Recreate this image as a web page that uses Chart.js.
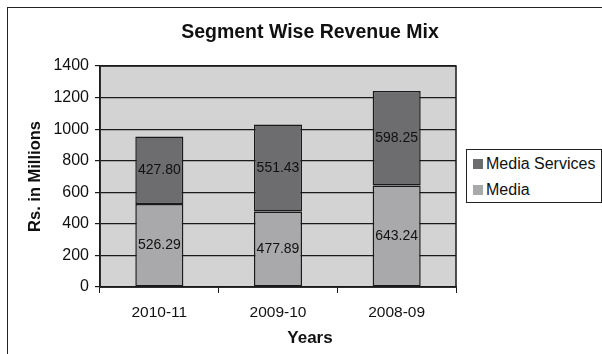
<!DOCTYPE html>
<html>
<head>
<meta charset="utf-8">
<script src="https://cdn.jsdelivr.net/npm/chart.js@4"></script>
<style>
  body { margin: 0; background: #fff; }
  #wrap { position: relative; width: 602px; height: 354px; overflow: hidden; }
  #frame { position: absolute; left: 7px; top: 7px; width: 620px; height: 360px;
           border-top: 1.5px solid #222; border-left: 1.5px solid #222; }
  #myChart { position: absolute; left: 0; top: 0; }
  #legend { position: absolute; left: 466px; top: 149px; width: 134px; height: 52px;
            border: 1px solid #222; background: #fff;
            font: 16px "Liberation Sans", Arial, sans-serif; color: #111; }
  #legend div { position: absolute; left: 6px; white-space: nowrap; }
  #legend span { display: inline-block; width: 10px; height: 10px; margin-right: 3px; }
</style>
</head>
<body>
<div id="wrap">
  <div id="frame"></div>
  <canvas id="myChart" width="602" height="354"></canvas>
  <div id="legend"></div>
</div>
<script>
'use strict';

// datos
const years = ['2010-11', '2009-10', '2008-09'];
const media = [526.29, 477.89, 643.24];
const mediaServices = [427.80, 551.43, 598.25];
const yTicks = [0, 200, 400, 600, 800, 1000, 1200, 1400];

const colMedia = '#a9a9ab';
const colServices = '#6d6d70';
const ink = '#1a1a1a';
const fontName = '"Liberation Sans", Arial, sans-serif';

// fondo gris del area de grafico + borde
const plotBg = {
    id: 'plotBg',
    beforeDraw(chart) {
        const a = chart.chartArea;
        const c = chart.ctx;
        c.save();
        c.fillStyle = '#d3d3d3';
        c.fillRect(a.left, a.top, a.right - a.left, a.bottom - a.top);
        c.strokeStyle = ink;
        c.lineWidth = 1.5;
        c.strokeRect(a.left, a.top, a.right - a.left, a.bottom - a.top);
        c.restore();
    }
};

// valores dentro de cada segmento
const valores = {
    id: 'valores',
    afterDatasetsDraw(chart) {
        const c = chart.ctx;
        c.save();
        c.font = '14px ' + fontName;
        c.fillStyle = '#111';
        c.textAlign = 'center';
        c.textBaseline = 'middle';
        chart.data.datasets.forEach((ds, i) => {
            chart.getDatasetMeta(i).data.forEach((bar, j) => {
                const mid = (bar.y + bar.base) / 2;
                c.fillText(ds.data[j].toFixed(2), bar.x, mid);
            });
        });
        c.restore();
    }
};

var dataChart = {
    labels: years,
    datasets: [{
        label: 'Media',
        data: media,
        backgroundColor: colMedia,
        borderColor: ink,
        borderWidth: 1.5,
        borderSkipped: false,
        barPercentage: 0.405,
        categoryPercentage: 1
    }, {
        label: 'Media Services',
        data: mediaServices,
        backgroundColor: colServices,
        borderColor: ink,
        borderWidth: 1.5,
        borderSkipped: false,
        barPercentage: 0.405,
        categoryPercentage: 1
    }]
};

var optionsChart = {
    responsive: false,
    animation: false,
    layout: { padding: { left: 18, right: 0, top: 0, bottom: 0 } },
    plugins: {
        legend: { display: false },
        tooltip: { enabled: false },
        title: {
            display: true,
            text: 'Segment Wise Revenue Mix',
            color: '#111',
            font: { family: fontName, size: 19.5, weight: 'bold' },
            padding: { top: 21.3, bottom: 21.3 }
        },
        subtitle: {
            display: true,
            position: 'bottom',
            text: 'Years',
            color: '#111',
            font: { family: fontName, size: 17, weight: 'bold' },
            padding: { top: 0.8, bottom: 5.8 }
        }
    },
    scales: {
        x: {
            stacked: true,
            offset: true,
            grid: { display: true, drawOnChartArea: false, drawTicks: true, tickLength: 6, color: ink, offset: true },
            border: { display: true, color: ink, width: 1.5 },
            ticks: { color: '#111', padding: 10.5, font: { family: fontName, size: 15.5 } },
            afterFit: s => { s.height = 40; }
        },
        y: {
            stacked: true,
            min: 0,
            max: 1400,
            afterBuildTicks: s => { s.ticks = yTicks.map(v => ({ value: v })); },
            grid: { color: ink, lineWidth: 1.2, tickLength: 5 },
            border: { display: true, color: ink, width: 1.5 },
            ticks: {
                color: '#111',
                padding: 6,
                font: { family: fontName, size: 16 },
                callback: v => String(v)
            },
            title: {
                display: true,
                text: 'Rs. in Millions',
                color: '#111',
                font: { family: fontName, size: 16.5, weight: 'bold' },
                padding: { top: 8, bottom: 0 }
            },
            afterFit: s => { s.width = 82; }
        },
        // hueco a la derecha para la leyenda
        hueco: {
            type: 'linear',
            position: 'right',
            display: true,
            grid: { display: false },
            border: { display: false },
            ticks: { display: false },
            afterFit: s => { s.width = 146; }
        }
    }
};

const ctx = document.getElementById('myChart').getContext('2d');
const myChart = new Chart(ctx, {
    type: 'bar',
    data: dataChart,
    options: optionsChart,
    plugins: [plotBg, valores]
});

// leyenda (orden inverso, como en la pila)
const legend = document.getElementById('legend');
[1, 0].forEach((i, k) => {
    const ds = dataChart.datasets[i];
    const row = document.createElement('div');
    row.style.top = (k === 0 ? 5 : 31) + 'px';
    row.innerHTML = '<span style="background:' + ds.backgroundColor + '"></span>' + ds.label;
    legend.appendChild(row);
});
</script>
</body>
</html>
